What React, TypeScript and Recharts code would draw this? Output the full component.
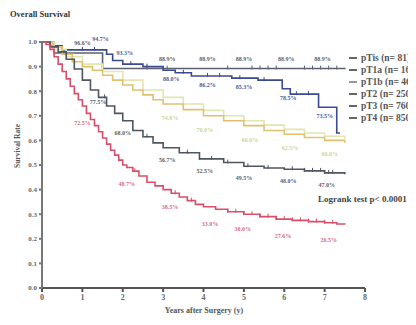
import { ComposedChart, Line, Scatter, XAxis, YAxis } from "recharts";

// [years, survival] step points
const pTis = [[0, 1], [0.3, 0.955], [1.5, 0.892], [7.5, 0.889]];
const pT1a = [[0, 1], [0.2, 0.985], [0.5, 0.968], [1.6, 0.95], [1.75, 0.925], [2.0, 0.91], [2.5, 0.9], [3.0, 0.885], [3.3, 0.875], [3.7, 0.862], [4.7, 0.853], [5.35, 0.845], [5.95, 0.81], [6.15, 0.788], [6.85, 0.735], [7.3, 0.63], [7.38, 0.63]];
const pT1b = [[0, 1], [0.3, 0.97], [0.6, 0.94], [1.0, 0.91], [1.5, 0.88], [2.0, 0.845], [2.5, 0.805], [3.0, 0.775], [3.5, 0.748], [4.0, 0.722], [4.5, 0.7], [5.0, 0.68], [5.5, 0.662], [6.0, 0.645], [6.5, 0.63], [7.0, 0.617], [7.5, 0.607]];
const pT2 = [[0, 1], [0.25, 0.98], [0.5, 0.95], [0.75, 0.92], [1.0, 0.9], [1.25, 0.885], [1.5, 0.865], [1.75, 0.845], [2.0, 0.825], [2.25, 0.805], [2.5, 0.785], [2.75, 0.765], [3.0, 0.748], [3.5, 0.725], [4.0, 0.7], [4.5, 0.68], [5.0, 0.66], [5.5, 0.64], [6.0, 0.625], [6.5, 0.612], [7.0, 0.6], [7.5, 0.59]];
const pT3 = [[0, 1], [0.2, 0.98], [0.4, 0.96], [0.6, 0.93], [0.8, 0.89], [1.0, 0.845], [1.2, 0.805], [1.4, 0.775], [1.6, 0.74], [1.8, 0.71], [2.0, 0.68], [2.25, 0.64], [2.5, 0.615], [2.75, 0.59], [3.0, 0.57], [3.4, 0.55], [3.9, 0.525], [4.5, 0.51], [5.0, 0.495], [5.5, 0.488], [6.0, 0.483], [6.5, 0.476], [7.0, 0.468], [7.5, 0.462]];
const pT4 = [[0, 1], [0.1, 0.99], [0.2, 0.97], [0.3, 0.94], [0.4, 0.91], [0.5, 0.88], [0.6, 0.85], [0.7, 0.82], [0.8, 0.79], [0.9, 0.765], [1.0, 0.74], [1.1, 0.71], [1.2, 0.685], [1.3, 0.66], [1.4, 0.635], [1.5, 0.61], [1.6, 0.585], [1.7, 0.56], [1.8, 0.54], [1.9, 0.52], [2.0, 0.5], [2.1, 0.49], [2.25, 0.475], [2.4, 0.455], [2.6, 0.43], [2.8, 0.415], [3.0, 0.4], [3.2, 0.385], [3.4, 0.37], [3.6, 0.355], [3.8, 0.34], [4.0, 0.33], [4.3, 0.32], [4.6, 0.31], [5.0, 0.3], [5.4, 0.29], [5.8, 0.28], [6.2, 0.275], [6.6, 0.27], [7.0, 0.265], [7.3, 0.26], [7.5, 0.258]];

// censored cases (years)
const pTisCens = [2.6, 3.1, 4.6, 5.2, 5.4, 5.6, 5.8, 6.5, 6.7, 6.9, 7.1, 7.3];
const pT1aCens = [1.0, 1.3, 2.2, 2.6, 3.5, 4.1, 4.4, 4.9, 5.5, 6.3, 6.6];
const pT3Cens = [1.55, 2.6, 3.6, 3.9, 4.2, 4.6, 5.1, 5.6, 6.2, 6.5, 6.7, 6.9, 7.0, 7.1, 7.2];
const pT4Cens = [1.9, 2.3, 3.3, 3.7, 4.6, 4.8, 5.0, 5.2, 5.4, 5.6, 5.8, 6.0, 6.2, 6.4, 6.6, 6.8, 7.0, 7.2];

// rate labels [year, text]
const pTisLabels = [[1.0, "96.6%"], [3.1, "88.9%"], [4.1, "88.9%"], [5.0, "88.9%"], [6.05, "88.9%"], [6.95, "88.9%"]];
const pT1aLabelsTop = [[1.45, "94.7%"], [2.05, "93.3%"]];
const pT1aLabelsLow = [[3.2, "88.0%"], [4.1, "86.2%"], [5.0, "85.3%"], [6.1, "78.5%"], [7.0, "73.5%"]];
const pT2Labels = [[3.17, "74.8%"], [4.03, "70.0%"], [5.15, "66.0%"], [6.14, "62.5%"], [7.13, "60.0%"]];
const pT3Labels = [[1.39, "77.5%"], [2.0, "68.0%"], [3.1, "56.7%"], [4.03, "52.5%"], [5.0, "49.5%"], [6.1, "48.0%"], [7.05, "47.0%"]];
const pT4Labels = [[1.0, "72.5%"], [2.1, "48.7%"], [3.17, "38.5%"], [4.16, "33.0%"], [4.97, "30.0%"], [5.97, "27.6%"], [7.1, "26.5%"]];

const legendNames = ["pTis (n= 81)", "pT1a (n= 16)", "pT1b (n= 46)", "pT2 (n= 250)", "pT3 (n= 760)", "pT4 (n= 850)"];
const xTicks = [0, 1, 2, 3, 4, 5, 6, 7, 8];
const yTicks = [0, 0.1, 0.2, 0.3, 0.4, 0.5, 0.6, 0.7, 0.8, 0.9, 1.0];

const serif = "'Liberation Serif', 'DejaVu Serif', serif";

const toPts = (c: number[][]) => c.map(([t, v]) => ({ t, v }));
const stepAt = (c: number[][], t: number) => {
  let v = c[0][1];
  for (const [x, y] of c) if (x <= t) v = y;
  return v;
};
const cens = (c: number[][], times: number[]) => times.map((t) => ({ t, v: stepAt(c, t) }));
const labs = (c: number[][], l: any[]) => l.map(([t, text]) => ({ t, v: stepAt(c, t), text }));

const series = [
  { name: legendNames[0], curve: pTis, color: "#5b6170" },
  { name: legendNames[1], curve: pT1a, color: "#3b4a8f" },
  { name: legendNames[2], curve: pT1b, color: "#e2e6b0" },
  { name: legendNames[3], curve: pT2, color: "#e1c170" },
  { name: legendNames[4], curve: pT3, color: "#4e5660" },
  { name: legendNames[5], curve: pT4, color: "#d94f6b" },
];

const labelSets = [
  { data: labs(pTis, pTisLabels), color: "#5b6170", dy: -8 },
  { data: labs(pT1a, pT1aLabelsTop), color: "#4a5a9a", dy: -9 },
  { data: labs(pT1a, pT1aLabelsLow), color: "#4a5a9a", dy: 11 },
  { data: labs(pT2, pT2Labels), color: "#c9d890", dy: 16 },
  { data: labs(pT3, pT3Labels), color: "#5a616a", dy: 14 },
  { data: labs(pT4, pT4Labels), color: "#dc6a80", dy: 19 },
];

const censSets = [
  { data: cens(pTis, pTisCens), color: "#5b6170" },
  { data: cens(pT1a, pT1aCens), color: "#3b4a8f" },
  { data: cens(pT3, pT3Cens), color: "#4e5660" },
  { data: cens(pT4, pT4Cens), color: "#d94f6b" },
];

const Tick = (color: string) => (p: any) =>
  p.cx == null ? <g /> : <line x1={p.cx} x2={p.cx} y1={p.cy - 3} y2={p.cy + 1} stroke={color} strokeWidth={1} />;

const Label = (color: string, dy: number) => (p: any) =>
  p.cx == null ? <g /> : (
    <text x={p.cx} y={p.cy + dy} textAnchor="middle" fontSize={6} fontFamily={serif} fontWeight={700} fill={color}>
      {p.payload.text}
    </text>
  );

export default function App() {
  return (
    <div style={{ position: "relative", width: 416, height: 325, margin: -8, overflow: "hidden", background: "#fff", fontFamily: serif }}>
      <div style={{ position: "absolute", left: 10, top: 9, fontSize: 8.5, fontWeight: 700, color: "#333" }}>Overall Survival</div>
      <ComposedChart width={416} height={325} margin={{ top: 42, right: 51, left: 12, bottom: 12 }}>
        <XAxis
          type="number"
          dataKey="t"
          domain={[0, 8]}
          ticks={xTicks}
          height={25}
          tickSize={4}
          stroke="#555"
          strokeWidth={2}
          tick={{ fontSize: 8, fill: "#666", fontFamily: serif, fontWeight: 700 }}
        />
        <YAxis
          type="number"
          dataKey="v"
          domain={[0, 1]}
          ticks={yTicks}
          width={30}
          tickSize={3}
          stroke="#777"
          strokeWidth={2}
          tickFormatter={(v) => v.toFixed(1)}
          tick={{ fontSize: 7, fill: "#666", fontFamily: serif, fontWeight: 700 }}
        />
        {series.map((s) => (
          <Line
            key={s.name}
            data={toPts(s.curve)}
            dataKey="v"
            type="stepAfter"
            stroke={s.color}
            strokeWidth={1.6}
            dot={false}
            isAnimationActive={false}
          />
        ))}
        {censSets.map((c, i) => (
          <Scatter key={"c" + i} data={c.data} dataKey="v" shape={Tick(c.color)} isAnimationActive={false} />
        ))}
        {labelSets.map((l, i) => (
          <Scatter key={"l" + i} data={l.data} dataKey="v" shape={Label(l.color, l.dy)} isAnimationActive={false} />
        ))}
      </ComposedChart>
      {series.map((s, i) => (
        <div key={s.name} style={{ position: "absolute", left: 349, top: 53 + i * 12, display: "flex", alignItems: "center", whiteSpace: "nowrap", fontSize: 9.5, fontWeight: 700, color: "#555" }}>
          <span style={{ display: "inline-block", width: 8, height: 1.5, background: i === 2 ? "#999" : "#666", marginRight: 4 }} />
          {s.name}
        </div>
      ))}
      <div style={{ position: "absolute", left: 318, top: 194, fontSize: 9, fontWeight: 700, color: "#444", whiteSpace: "nowrap" }}>
        Logrank test p&lt; 0.0001
      </div>
      <div style={{ position: "absolute", left: 17, top: 146, transform: "translate(-50%, -50%) rotate(-90deg)", fontSize: 7.5, fontWeight: 700, color: "#555", whiteSpace: "nowrap" }}>
        Survival Rate
      </div>
      <div style={{ position: "absolute", left: 204, top: 306, transform: "translateX(-50%)", fontSize: 8, fontWeight: 700, color: "#555", whiteSpace: "nowrap" }}>
        Years after Surgery (y)
      </div>
    </div>
  );
}
